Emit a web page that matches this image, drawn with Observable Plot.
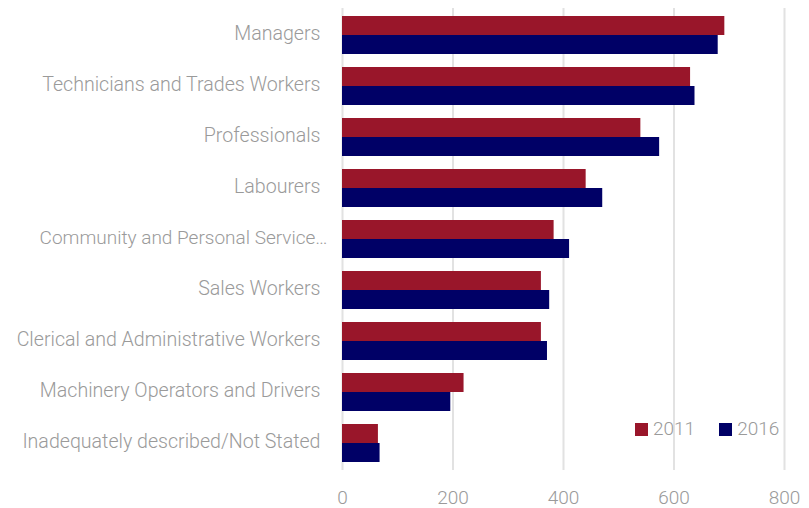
<!DOCTYPE html>
<html><head><meta charset="utf-8">
<script src="https://cdn.jsdelivr.net/npm/d3@7"></script>
<script src="https://cdn.jsdelivr.net/npm/@observablehq/plot@0.6"></script>
<style>
body{margin:0;background:#fff;}
#wrap{position:relative;width:809px;height:508px;font-family:Roboto,sans-serif;font-weight:300;}
#legend{position:absolute;left:635px;top:418px;display:flex;align-items:center;font-size:19px;color:#9a9a9a;line-height:22px;}
#legend .item{display:flex;align-items:center;margin-right:24px;}
#legend .sw{width:13px;height:13px;margin-right:5px;}
</style></head><body><div id="wrap"></div>
<script>
const categories = [
  "Managers",
  "Technicians and Trades Workers",
  "Professionals",
  "Labourers",
  "Community and Personal Service Workers",
  "Sales Workers",
  "Clerical and Administrative Workers",
  "Machinery Operators and Drivers",
  "Inadequately described/Not Stated"
];
const tickLabels = [
  "Managers",
  "Technicians and Trades Workers",
  "Professionals",
  "Labourers",
  "Community and Personal Service\u2026",
  "Sales Workers",
  "Clerical and Administrative Workers",
  "Machinery Operators and Drivers",
  "Inadequately described/Not Stated"
];
const values2011 = [692, 630, 540, 441, 383, 360, 360, 220, 65];
const values2016 = [680, 638, 574, 471, 411, 375, 371, 196, 68];
const years = ["2011", "2016"];
const colors = ["#99162a", "#000066"];
const xTicks = [0, 200, 400, 600, 800];

const data2011 = categories.map((c, i) => ({category: c, value: values2011[i]}));
const data2016 = categories.map((c, i) => ({category: c, value: values2016[i]}));
const labelOf = new Map(categories.map((c, i) => [c, tickLabels[i]]));

const chart = Plot.plot({
  width: 809,
  height: 508,
  marginLeft: 342,
  marginRight: 25,
  marginTop: 8,
  marginBottom: 38,
  style: {fontFamily: "Roboto, sans-serif", fontSize: "19px", fontWeight: 300, color: "#9a9a9a", background: "#fff", overflow: "visible"},
  x: {domain: [0, 800], ticks: xTicks, label: null},
  y: {domain: categories, paddingInner: 0.26, paddingOuter: 0.13, label: null},
  marks: [
    Plot.ruleX(xTicks, {stroke: "#e2e2e2", strokeWidth: 2}),
    Plot.barX(data2011, {x: "value", y: "category", fill: colors[0], insetBottom: 19}),
    Plot.barX(data2016, {x: "value", y: "category", fill: colors[1], insetTop: 19}),
    Plot.axisX({ticks: xTicks, tickSize: 0, tickPadding: 20, label: null, fill: "#9a9a9a"}),
    Plot.axisY({tickSize: 0, tickPadding: 22, dy: -2, fontSize: 19.6, label: null, fill: "#9a9a9a", tickFormat: d => labelOf.get(d)})
  ]
});
// the truncated label's ellipsis overhangs the label column in the reference
d3.select(chart).selectAll("text")
  .filter(function() { return this.textContent === tickLabels[4]; })
  .attr("dx", 7).style("font-size", "19px");
const wrap = document.getElementById("wrap");
wrap.appendChild(chart);
const legend = document.createElement("div");
legend.id = "legend";
years.forEach((y, i) => {
  const item = document.createElement("div");
  item.className = "item";
  const sw = document.createElement("div");
  sw.className = "sw";
  sw.style.background = colors[i];
  const t = document.createElement("span");
  t.textContent = y;
  item.appendChild(sw); item.appendChild(t);
  legend.appendChild(item);
});
wrap.appendChild(legend);
</script></body></html>
